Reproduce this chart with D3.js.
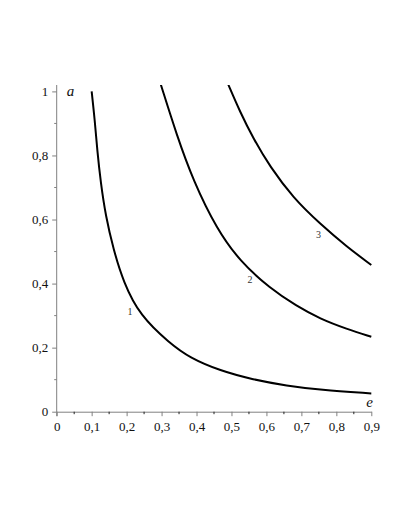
<!DOCTYPE html>
<html>
<head>
<meta charset="utf-8">
<script src="https://cdn.jsdelivr.net/npm/d3@7"></script>
<style>
  body { margin: 0; background: #fff; }
  svg { display: block; }
</style>
</head>
<body>
<div id="chart"></div>
<script>
// values (e = eccentricity, a = semi-axis)
const curve1E = [0.1, 0.109, 0.116, 0.126, 0.14, 0.162, 0.191, 0.238, 0.324, 0.381, 0.467, 0.562, 0.658, 0.753, 0.9];
const curve1A = [1.0, 0.91, 0.815, 0.715, 0.612, 0.508, 0.404, 0.3, 0.213, 0.168, 0.128, 0.1, 0.081, 0.068, 0.057];
const curve2E = [0.298, 0.343, 0.391, 0.458, 0.524, 0.61, 0.686, 0.753, 0.83, 0.9];
const curve2A = [1.021, 0.865, 0.72, 0.57, 0.47, 0.385, 0.33, 0.29, 0.258, 0.234];
const curve3E = [0.491, 0.524, 0.562, 0.61, 0.677, 0.753, 0.83, 0.9];
const curve3A = [1.021, 0.937, 0.854, 0.765, 0.667, 0.587, 0.515, 0.458];

const curveNames = ["1", "2", "3"];
const labelPos = [[0.21, 0.302], [0.553, 0.401], [0.749, 0.542]]; // [e, a] where the number sits

const xTicks = [0, 0.1, 0.2, 0.3, 0.4, 0.5, 0.6, 0.7, 0.8, 0.9];
const yTicks = [0, 0.2, 0.4, 0.6, 0.8, 1];

const W = 410, H = 530;
const svg = d3.select("#chart").append("svg")
    .attr("width", W).attr("height", H);

const x = d3.scaleLinear().domain([0, 0.9]).range([56.7, 371.3]);
const y = d3.scaleLinear().domain([0, 1.02]).range([411.7, 85]);

const fmt = d => d === 0 ? "0" : d === 1 ? "1" : d3.format(".1f")(d).replace(".", ",");
const font = "'Liberation Serif', 'Times New Roman', serif";
const axisColor = "#808080";

// clip so the curves stop at the top of the plot
svg.append("clipPath").attr("id", "plot-clip")
    .append("rect")
    .attr("x", x(0)).attr("y", y(1.02))
    .attr("width", x(0.9) - x(0) + 2).attr("height", y(0) - y(1.02));

// ---- axes ----
const xAxis = svg.append("g")
    .attr("transform", `translate(0,${y(0)})`)
    .call(d3.axisBottom(x).tickValues(xTicks).tickFormat(fmt).tickSize(4.5).tickPadding(6).tickSizeOuter(0));
xAxis.select(".domain").attr("stroke", axisColor);
xAxis.selectAll(".tick line").attr("stroke", axisColor);
xAxis.selectAll("text").attr("font-family", font).attr("font-size", 13).attr("fill", "#111");

// minor x ticks
svg.append("g").selectAll("line")
    .data(d3.range(1, 18, 2).map(i => i * 0.05))
    .join("line")
    .attr("x1", d => x(d)).attr("x2", d => x(d))
    .attr("y1", y(0)).attr("y2", y(0) + 2.5)
    .attr("stroke", "#222").attr("stroke-width", 1);

const yAxis = svg.append("g")
    .attr("transform", `translate(${x(0)},0)`)
    .call(d3.axisLeft(y).tickValues(yTicks).tickFormat(fmt).tickSize(4.5).tickPadding(4).tickSizeOuter(0));
yAxis.select(".domain").attr("stroke", axisColor).attr("d", `M0,${y(0) + 4.5}V${y(1.02)}`);
yAxis.selectAll(".tick line").attr("stroke", axisColor);
yAxis.selectAll("text").attr("font-family", font).attr("font-size", 13).attr("fill", "#111");

// minor y ticks
svg.append("g").selectAll("line")
    .data([0.1, 0.3, 0.5, 0.7, 0.9])
    .join("line")
    .attr("x1", x(0) - 2.5).attr("x2", x(0))
    .attr("y1", d => y(d)).attr("y2", d => y(d))
    .attr("stroke", axisColor).attr("stroke-width", 1);

// axis names
svg.append("text")
    .attr("x", x(0) + 10).attr("y", y(1) + 5)
    .attr("font-family", font).attr("font-style", "italic").attr("font-size", 15)
    .attr("fill", "#111").text("a");
svg.append("text")
    .attr("x", x(0.9) - 5).attr("y", y(0) - 5)
    .attr("font-family", font).attr("font-style", "italic").attr("font-size", 15)
    .attr("fill", "#111").text("e");

// ---- curves ----
const series = [
    d3.zip(curve1E, curve1A),
    d3.zip(curve2E, curve2A),
    d3.zip(curve3E, curve3A)
];

const line = d3.line()
    .x(d => x(d[0]))
    .y(d => y(d[1]))
    .curve(d3.curveBasis);

svg.append("g").attr("clip-path", "url(#plot-clip)")
    .selectAll("path")
    .data(series)
    .join("path")
    .attr("d", line)
    .attr("fill", "none")
    .attr("stroke", "#000")
    .attr("stroke-width", 2);

// curve numbers
svg.append("g").selectAll("text")
    .data(curveNames)
    .join("text")
    .attr("x", (d, i) => x(labelPos[i][0]))
    .attr("y", (d, i) => y(labelPos[i][1]))
    .attr("text-anchor", "middle")
    .attr("font-family", font).attr("font-size", 10)
    .attr("fill", "#333")
    .text(d => d);
</script>
</body>
</html>
